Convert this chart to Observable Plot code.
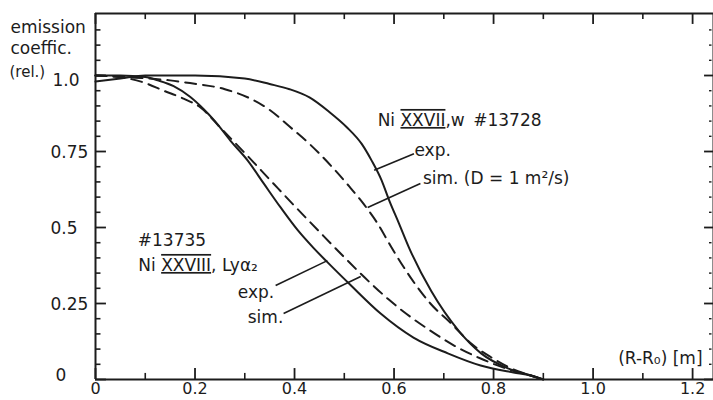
<!DOCTYPE html>
<html>
<head>
<meta charset="utf-8">
<script src="https://cdn.jsdelivr.net/npm/d3@7"></script>
<script src="https://cdn.jsdelivr.net/npm/@observablehq/plot@0.6"></script>
<style>
  html, body { margin: 0; padding: 0; background: #fff; }
  #chart { width: 713px; height: 400px; }
</style>
</head>
<body>
<div id="chart"></div>
<script>
// ---- data ----
// Ni XXVII, w  #13728 — experiment (solid)
const wExpX = [0, 0.05, 0.1, 0.2, 0.3, 0.35, 0.39, 0.43, 0.47, 0.505, 0.535, 0.555, 0.575, 0.59, 0.61, 0.63, 0.675, 0.73, 0.775, 0.83, 0.875, 0.9];
const wExpY = [0.98, 0.99, 1.0, 1.0, 0.99, 0.972, 0.955, 0.928, 0.88, 0.83, 0.775, 0.72, 0.655, 0.59, 0.513, 0.434, 0.29, 0.16, 0.086, 0.036, 0.013, 0];
// Ni XXVII, w — simulation D = 1 m²/s (dashed)
const wSimX = [0, 0.08, 0.15, 0.19, 0.26, 0.31, 0.35, 0.39, 0.43, 0.475, 0.51, 0.54, 0.567, 0.595, 0.633, 0.673, 0.715, 0.755, 0.796, 0.836, 0.876, 0.9];
const wSimY = [1.0, 0.993, 0.984, 0.975, 0.955, 0.925, 0.887, 0.832, 0.775, 0.70, 0.635, 0.575, 0.513, 0.434, 0.336, 0.25, 0.184, 0.118, 0.072, 0.036, 0.013, 0];
// Ni XXVIII, Ly alpha2  #13735 — experiment (solid)
const lyExpX = [0, 0.05, 0.1, 0.125, 0.157, 0.19, 0.217, 0.24, 0.271, 0.306, 0.338, 0.372, 0.406, 0.438, 0.466, 0.513, 0.573, 0.639, 0.708, 0.774, 0.84, 0.874, 0.9];
const lyExpY = [1.0, 1.0, 0.995, 0.984, 0.965, 0.93, 0.89, 0.85, 0.786, 0.72, 0.645, 0.566, 0.492, 0.433, 0.386, 0.31, 0.217, 0.138, 0.086, 0.046, 0.023, 0.013, 0];
// Ni XXVIII, Ly alpha2 — simulation (dashed)
const lySimX = [0, 0.056, 0.097, 0.137, 0.177, 0.211, 0.25, 0.3, 0.35, 0.4, 0.45, 0.5, 0.54, 0.59, 0.62, 0.67, 0.728, 0.774, 0.82, 0.874, 0.9];
const lySimY = [1.0, 0.993, 0.977, 0.95, 0.924, 0.895, 0.83, 0.745, 0.658, 0.571, 0.486, 0.402, 0.337, 0.262, 0.222, 0.164, 0.105, 0.069, 0.039, 0.013, 0];

// axes
const xDomain = [0, 1.242];
const yDomain = [0, 1.204];
const xTickValues = [0, 0.2, 0.4, 0.6, 0.8, 1.0, 1.2];
const xTickLabels = ["0", "0.2", "0.4", "0.6", "0.8", "1.0", "1.2"];
const xMinorTicks = [0.1, 0.3, 0.5, 0.7, 0.9, 1.1];
const yTickValues = [0, 0.25, 0.5, 0.75, 1.0];
const yTickLabels = ["0", "0.25", "0.5", "0.75", "1.0"];
const yMinorTicks = [0.05, 0.1, 0.15, 0.2, 0.3, 0.35, 0.4, 0.45, 0.55, 0.6, 0.65, 0.7, 0.8, 0.85, 0.9, 0.95, 1.05, 1.1, 1.15];
const yTitleLines = ["emission", "coeffic.", "(rel.)"];
const xTitle = "(R-R\u2080) [m]";

// annotations (text anchored at start, data coordinates)
const annoText = ["Ni {XXVII},w\u2002#13728", "exp.", "sim. (D = 1 m\u00B2/s)", "#13735", "Ni {XXVIII}, Ly\u03B1\u2082", "exp.", "sim."];
const annoX = [0.567, 0.641, 0.658, 0.085, 0.086, 0.286, 0.306];
const annoY = [0.852, 0.752, 0.661, 0.457, 0.375, 0.286, 0.204];
// leader lines
const leadX1 = [0.56, 0.547, 0.362, 0.378];
const leadY1 = [0.688, 0.566, 0.309, 0.217];
const leadX2 = [0.64, 0.653, 0.466, 0.533];
const leadY2 = [0.743, 0.645, 0.391, 0.339];

const zip = (xs, ys) => xs.map((x, i) => ({x, y: ys[i]}));
const ink = "#1c1c1c";
const [x0, xMax] = xDomain;
const [y0, yMax] = yDomain;
const yLabel = v => yTickLabels[yTickValues.indexOf(v)];

const annos = annoText.map((t, i) => ({t, x: annoX[i], y: annoY[i]}));
const leads = leadX1.map((x1, i) => ({x1, y1: leadY1[i], x2: leadX2[i], y2: leadY2[i]}));

const chart = Plot.plot({
  width: 713,
  height: 400,
  marginLeft: 95,
  marginRight: 0,
  marginTop: 13,
  marginBottom: 21,
  x: {domain: xDomain},
  y: {domain: yDomain},
  style: {fontFamily: "DejaVu Sans", fontSize: "17px", color: ink, background: "#fff", overflow: "visible"},
  marks: [
    Plot.axisX({ticks: xTickValues, tickFormat: (d, i) => xTickLabels[i], tickSize: 0, tickPadding: 3, label: null, fontSize: 16}),
    // y tick labels are left-aligned in the reference
    Plot.axisY({ticks: yTickValues.slice(1, 4), tickFormat: yLabel, tickSize: 0, tickPadding: 45, textAnchor: "start", dy: 1, label: null, fontSize: 17}),
    Plot.axisY({ticks: yTickValues.slice(0, 1), tickFormat: yLabel, tickSize: 0, tickPadding: 40, textAnchor: "start", dy: -4, label: null, fontSize: 17}),
    Plot.axisY({ticks: yTickValues.slice(4), tickFormat: yLabel, tickSize: 0, tickPadding: 43, textAnchor: "start", dy: 5, label: null, fontSize: 17}),
    // frame
    Plot.ruleX([x0], {stroke: ink, strokeWidth: 2}),
    Plot.ruleY([y0], {stroke: ink, strokeWidth: 2}),
    Plot.ruleY([yMax], {stroke: ink, strokeWidth: 2}),
    Plot.ruleX([xMax], {stroke: ink, strokeWidth: 2}),
    // inward ticks: left
    Plot.ruleY(yTickValues, {y: d => d, x1: 0, x2: 0.022, stroke: ink, strokeWidth: 1.8}),
    Plot.ruleY(yMinorTicks, {y: d => d, x1: 0, x2: 0.011, stroke: ink, strokeWidth: 1.6}),
    // right
    Plot.ruleY(yTickValues, {y: d => d, x1: xMax, x2: xMax - 0.018, stroke: ink, strokeWidth: 1.8}),
    Plot.ruleY(yMinorTicks, {y: d => d, x1: xMax - 0.003, x2: xMax - 0.008, stroke: ink, strokeWidth: 1.4}),
    // bottom
    Plot.ruleX(xTickValues, {x: d => d, y1: 0, y2: 0.036, stroke: ink, strokeWidth: 1.8}),
    Plot.ruleX(xMinorTicks, {x: d => d, y1: 0, y2: 0.02, stroke: ink, strokeWidth: 1.6}),
    // top
    Plot.ruleX(xTickValues, {x: d => d, y1: yMax, y2: yMax - 0.036, stroke: ink, strokeWidth: 1.8}),
    Plot.ruleX(xMinorTicks, {x: d => d, y1: yMax, y2: yMax - 0.02, stroke: ink, strokeWidth: 1.6}),
    // curves
    Plot.line(zip(wExpX, wExpY), {x: "x", y: "y", curve: "monotone-x", stroke: ink, strokeWidth: 2}),
    Plot.line(zip(wSimX, wSimY), {x: "x", y: "y", curve: "monotone-x", stroke: ink, strokeWidth: 2, strokeDasharray: "11,7"}),
    Plot.line(zip(lyExpX, lyExpY), {x: "x", y: "y", curve: "monotone-x", stroke: ink, strokeWidth: 2}),
    Plot.line(zip(lySimX, lySimY), {x: "x", y: "y", curve: "monotone-x", stroke: ink, strokeWidth: 2, strokeDasharray: "11,7"}),
    // leaders
    Plot.link(leads, {x1: "x1", y1: "y1", x2: "x2", y2: "y2", stroke: ink, strokeWidth: 1.6}),
    // annotations
    Plot.text(annos, {x: "x", y: "y", text: "t", textAnchor: "start", lineAnchor: "middle", fill: ink, fontSize: 17}),
    Plot.text([xTitle], {x: xMax - 0.022, y: 0.069, text: d => d, textAnchor: "end", lineAnchor: "middle", fill: ink, fontSize: 17}),
    // y title
    Plot.text([yTitleLines[0]], {frameAnchor: "top-left", text: d => d, dx: -85, dy: 14, textAnchor: "start", lineAnchor: "middle", fill: ink, fontSize: 17}),
    Plot.text([yTitleLines[1]], {frameAnchor: "top-left", text: d => d, dx: -85, dy: 35, textAnchor: "start", lineAnchor: "middle", fill: ink, fontSize: 17}),
    Plot.text([yTitleLines[2]], {frameAnchor: "top-left", text: d => d, dx: -86, dy: 59, textAnchor: "start", lineAnchor: "middle", fill: ink, fontSize: 15})
  ]
});

document.getElementById("chart").appendChild(chart);

// roman numerals: over- and underline the part in braces
d3.select(chart).selectAll("text").each(function () {
  const t = this.textContent;
  const m = t.match(/^(.*)\{(.*)\}(.*)$/);
  if (!m) return;
  const el = d3.select(this);
  el.text(null);
  el.append("tspan").text(m[1]);
  el.append("tspan").attr("style", "text-decoration: underline overline").text(m[2]);
  el.append("tspan").text(m[3]);
});
</script>
</body>
</html>
